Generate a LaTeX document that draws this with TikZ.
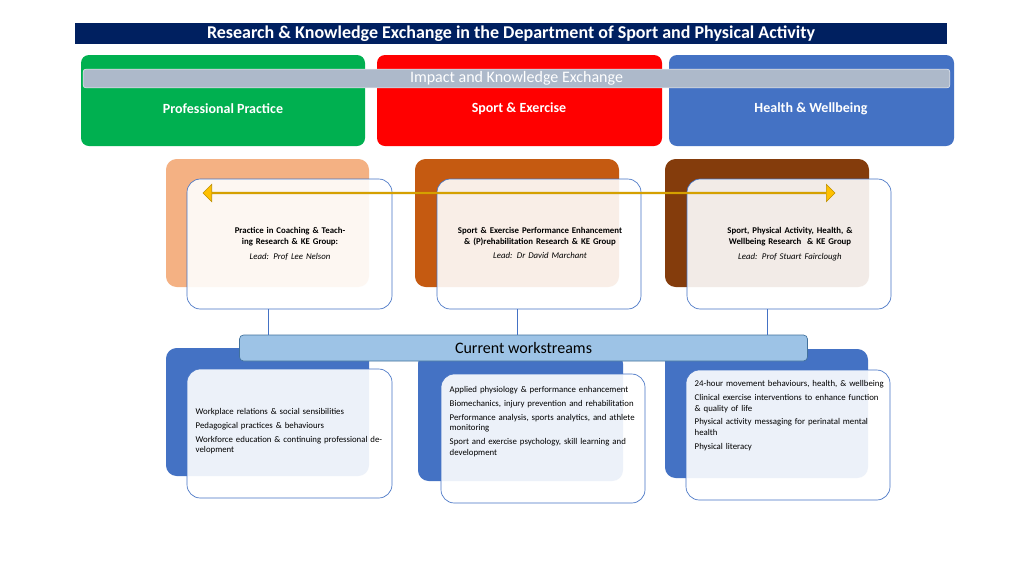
\documentclass[tikz,border=0pt]{standalone}
\usepackage{fontspec}
\setmainfont{Carlito}
\usetikzlibrary{shapes.arrows}
\definecolor{navy}{HTML}{002060}
\definecolor{pgreen}{HTML}{00B050}
\definecolor{pred}{HTML}{FF0000}
\definecolor{pblue}{HTML}{4472C4}
\definecolor{pgrey}{HTML}{ADB9CA}
\definecolor{peach}{HTML}{F4B183}
\definecolor{porange}{HTML}{C55A11}
\definecolor{pbrown}{HTML}{843C0C}
\definecolor{lblue}{HTML}{9DC3E6}
\definecolor{dblue}{HTML}{41719C}
\definecolor{edgeb}{HTML}{4472C4}
\definecolor{yel}{HTML}{FFC000}
\definecolor{dyel}{HTML}{BF9000}
\begin{document}
\begin{tikzpicture}[x=0.75pt,y=-0.75pt,
  top/.style={rounded corners=6pt,draw=none},
  back/.style={rounded corners=8pt,draw=none},
  over/.style={rounded corners=10pt,draw=edgeb,line width=0.5pt,fill=white,fill opacity=0.9},
  toplbl/.style={text=white,font=\bfseries\fontsize{10.5}{12}\selectfont},
  grp/.style={align=center,text width=150pt,font=\fontsize{6.6}{8.2}\selectfont},
  ws/.style={align=left,text width=143pt,font=\fontsize{6.6}{8.2}\selectfont},
  conn/.style={draw=edgeb,line width=0.5pt}]
\useasboundingbox (0,0) rectangle (1024,576);
\fill[white] (0,0) rectangle (1024,576);
% title
\node[fill=navy,minimum width=654pt,minimum height=15.5pt,inner sep=0,text=white,font=\bfseries\fontsize{13.5}{15}\selectfont] (title) at (511,33.5) {Research \& Knowledge Exchange in the Department of Sport and Physical Activity};
% top boxes
\fill[top,pgreen] (81,55) rectangle (365,146);
\fill[top,pred] (377,55) rectangle (662,146);
\fill[top,pblue] (669,55) rectangle (954,146);
\node[toplbl] (pp) at (223,109) {Professional Practice};
\node[toplbl] (se) at (519,109) {Sport \& Exercise};
\node[toplbl] (hw) at (811,109) {Health \& Wellbeing};
\node[fill=pgrey,draw=white!80!pgrey,rounded corners=2pt,minimum width=650pt,minimum height=14pt,inner sep=0,text=white,font=\fontsize{12}{14}\selectfont] (impact) at (516.5,78.5) {Impact and Knowledge Exchange};
% second row backs
\fill[back,peach] (166,159) rectangle (369,287);
\fill[back,porange] (415,159) rectangle (619,287);
\fill[back,pbrown] (665,159) rectangle (869,287);
\draw[over] (187,179) rectangle (392,309);
\draw[over] (437,179) rectangle (641,309);
\draw[over] (687,179) rectangle (891,309);
\coordinate (b1) at (268,309); \coordinate (b2) at (517,309); \coordinate (b3) at (767,309);
% arrow
\node[double arrow,fill=yel,draw=dyel,line width=0.5pt,minimum width=13pt,double arrow head extend=2.5pt,minimum height=474pt,inner sep=0,double arrow tip angle=90] (arr) at (519,193) {};
\node[grp] (g1) at (290,244) {\textbf{Practice in Coaching \& Teaching Research \& KE Group:}\\[3pt]\textit{Lead: Prof Lee Nelson}};
\node[grp] (g2) at (540,243) {\textbf{Sport \& Exercise Performance Enhancement \& (P)rehabilitation Research \& KE Group}\\[3pt]\textit{Lead: Dr David Marchant}};
\node[grp] (g3) at (790,244) {\textbf{Sport, Physical Activity, Health, \& Wellbeing Research ~\& KE Group}\\[3pt]\textit{Lead: Prof Stuart Fairclough}};
% third row
\fill[back,pblue] (166,348) rectangle (369,476);
\fill[back,pblue] (418,353) rectangle (623,481);
\fill[back,pblue] (665,349) rectangle (868,478);
\draw[over] (187,369) rectangle (392,498);
\draw[over] (441,374) rectangle (645,503);
\draw[over] (686,370) rectangle (890,500);
\node[fill=lblue,draw=dblue,line width=0.5pt,rounded corners=3pt,minimum width=426pt,minimum height=19.5pt,inner sep=0,font=\fontsize{12}{14}\selectfont] (cw) at (523.5,348) {Current workstreams};
\draw[conn] (b1) -- (b1 |- cw.north);
\draw[conn] (b2) -- (b2 |- cw.north);
\draw[conn] (b3) -- (b3 |- cw.north);
\node[ws,anchor=north west] (w1) at (191,404) {Workplace relations \& social sensibilities\\[2pt]Pedagogical practices \& behaviours\\[2pt]Workforce education \& continuing professional development};
\node[ws,anchor=north west] (w2) at (445,382) {Applied physiology \& performance enhancement\\[2pt]Biomechanics, injury prevention and rehabilitation\\[2pt]Performance analysis, sports analytics, and athlete monitoring\\[2pt]Sport and exercise psychology, skill learning and development};
\node[ws,anchor=north west] (w3) at (690,376) {24-hour movement behaviours, health, \& wellbeing\\[2pt]Clinical exercise interventions to enhance function \& quality of life\\[2pt]Physical activity messaging for perinatal mental health\\[2pt]Physical literacy};
\end{tikzpicture}
\end{document}
